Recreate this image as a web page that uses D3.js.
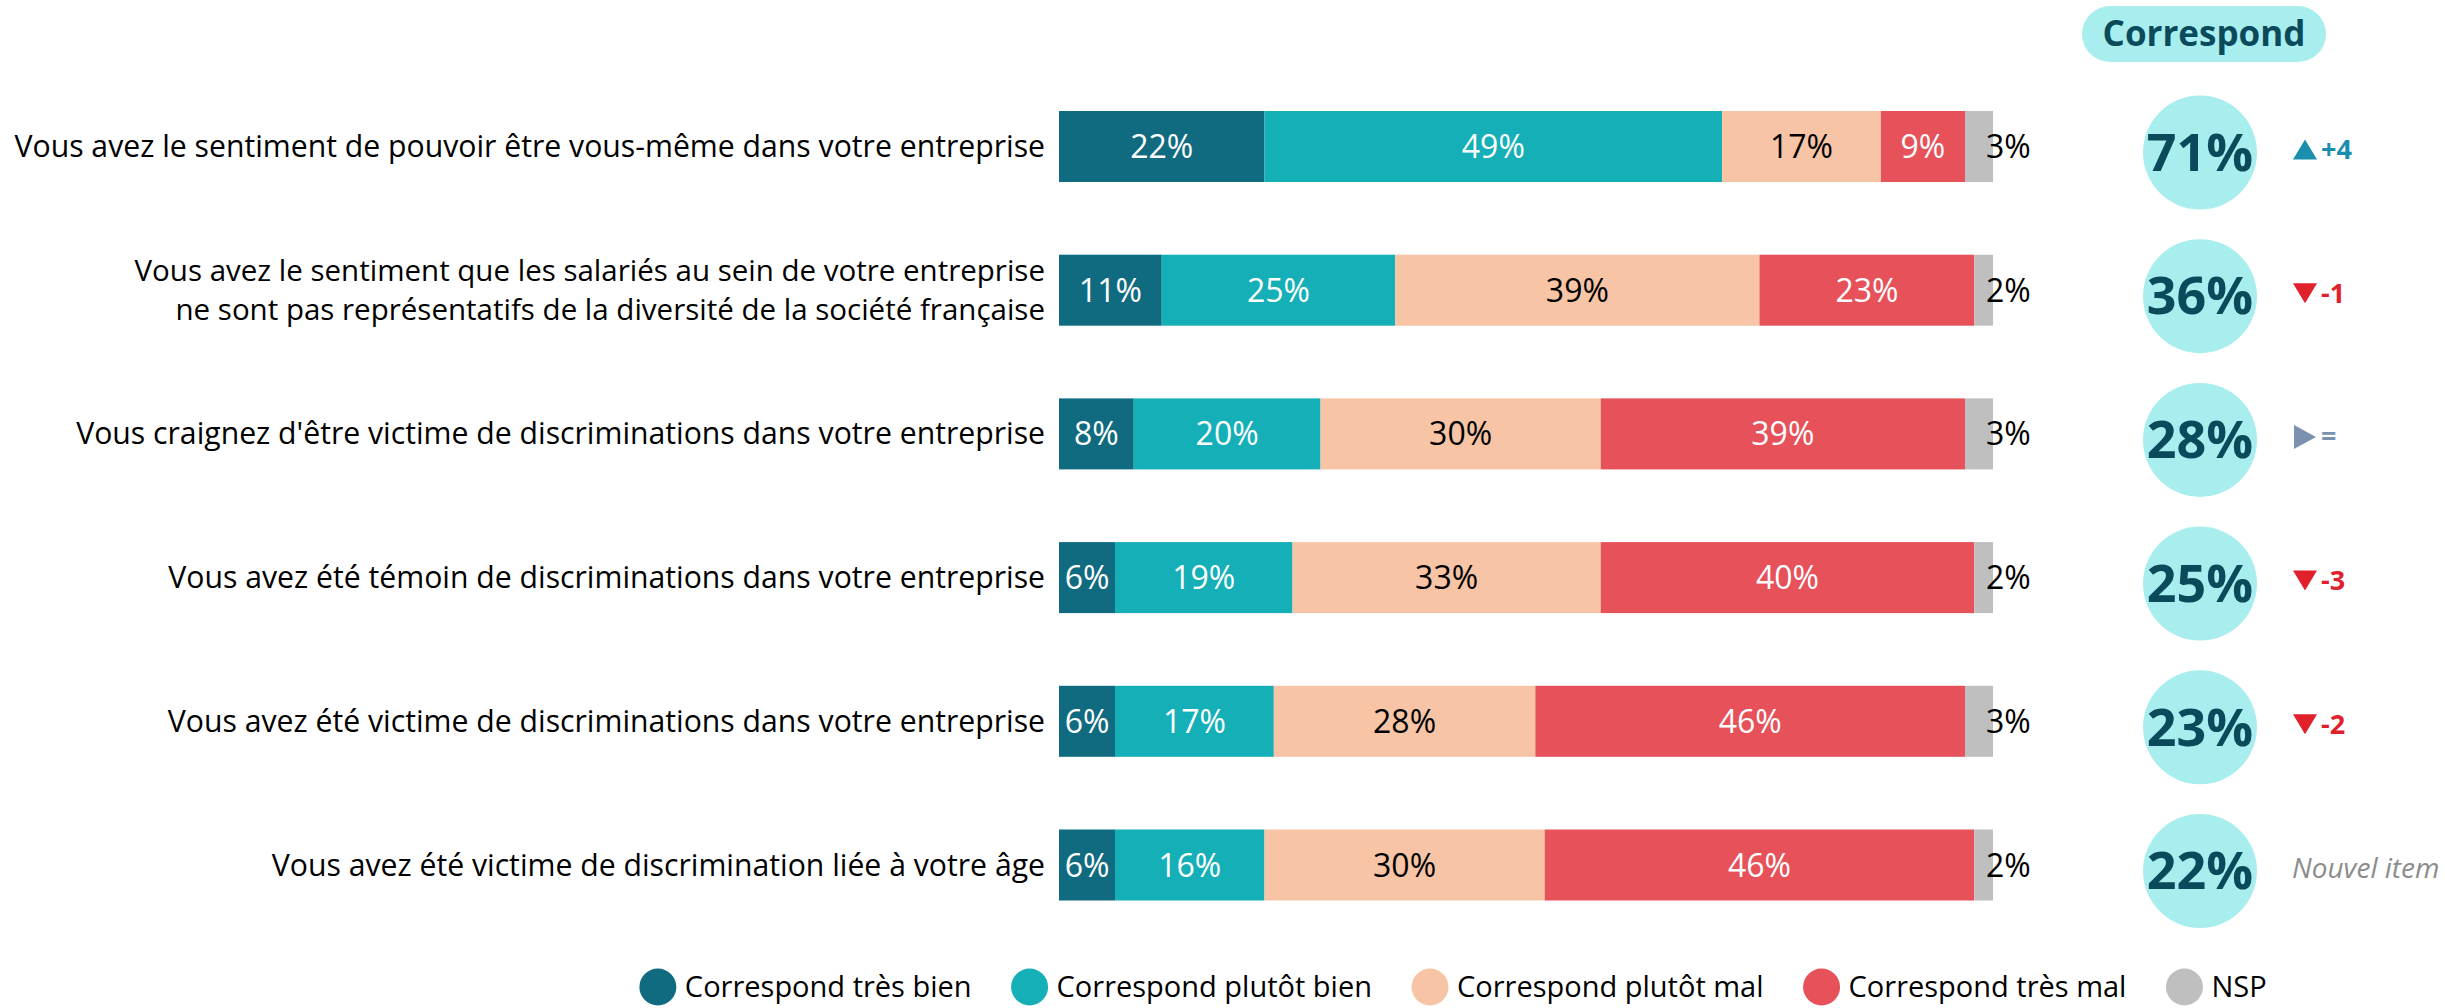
<!DOCTYPE html>
<html>
<head>
<meta charset="utf-8">
<script src="https://cdn.jsdelivr.net/npm/d3@7"></script>
<style>
  html, body { margin: 0; padding: 0; background: #fff; }
  svg text { font-family: "Open Sans", "Noto Sans", sans-serif; }
</style>
</head>
<body>
<svg id="chart" width="2445" height="1008"></svg>
<script>
// questions (une entrée = une ligne, "\n" = retour à la ligne)
var categories = [
  "Vous avez le sentiment de pouvoir être vous-même dans votre entreprise",
  "Vous avez le sentiment que les salariés au sein de votre entreprise\nne sont pas représentatifs de la diversité de la société française",
  "Vous craignez d'être victime de discriminations dans votre entreprise",
  "Vous avez été témoin de discriminations dans votre entreprise",
  "Vous avez été victime de discriminations dans votre entreprise",
  "Vous avez été victime de discrimination liée à votre âge"
];

var seriesNames = ["Correspond très bien", "Correspond plutôt bien", "Correspond plutôt mal", "Correspond très mal", "NSP"];
var tresBien   = [22, 11, 8, 6, 6, 6];
var plutotBien = [49, 25, 20, 19, 17, 16];
var plutotMal  = [17, 39, 30, 33, 28, 30];
var tresMal    = [9, 23, 39, 40, 46, 46];
var nsp        = [3, 2, 3, 2, 3, 2];

// total "Correspond" et évolution
var totalCorrespond = [71, 36, 28, 25, 23, 22];
var evolution = ["+4", "-1", "=", "-3", "-2", null];

var colors = ["#106b80", "#14afb7", "#f7c4a5", "#e6515a", "#bfbfbf"];
var labelColors = ["#fff", "#fff", "#000", "#fff", "#000"];

var svg = d3.select("#chart");

// tableau pour d3.stack
var table = categories.map(function (c, i) {
  return { cat: c, s0: tresBien[i], s1: plutotBien[i], s2: plutotMal[i], s3: tresMal[i], s4: nsp[i] };
});
var keys = ["s0", "s1", "s2", "s3", "s4"];
var stacked = d3.stack().keys(keys)(table);

var x = d3.scaleLinear().domain([0, 100]).range([1059, 1993]);
var y = d3.scalePoint().domain(categories).range([146.5, 865]);
var barH = 71;

// barres
var layers = svg.selectAll(".layer")
  .data(stacked)
  .enter().append("g")
  .attr("class", "layer")
  .attr("fill", function (d, i) { return colors[i]; });

layers.selectAll("rect")
  .data(function (d) { return d; })
  .enter().append("rect")
  .attr("x", function (d) { return x(d[0]); })
  .attr("y", function (d) { return y(d.data.cat) - barH / 2; })
  .attr("width", function (d) { return x(d[1]) - x(d[0]); })
  .attr("height", barH);

// valeurs dans les barres
layers.each(function (layer, li) {
  d3.select(this).selectAll("text")
    .data(layer)
    .enter().append("text")
    .attr("x", function (d) {
      if (li === 4) return x(d[1]) - 7; // NSP : a droite de la barre
      return (x(d[0]) + x(d[1])) / 2;
    })
    .attr("y", function (d) { return y(d.data.cat); })
    .attr("dy", "0.36em")
    .attr("text-anchor", li === 4 ? "start" : "middle")
    .attr("font-size", 32)
    .attr("fill", labelColors[li])
    .text(function (d) { return (d[1] - d[0]) + "%"; });
});

// libellés des questions (une balise text par ligne)
categories.forEach(function (d) {
  var lines = d.split("\n");
  lines.forEach(function (l, k) {
    svg.append("text")
      .attr("class", "qlabel")
      .attr("text-anchor", "end")
      .attr("font-size", lines.length > 1 ? 29.5 : 30.2)
      .attr("fill", "#000")
      .attr("x", 1045)
      .attr("y", y(d) + (k - (lines.length - 1) / 2) * 39)
      .attr("dy", "0.35em")
      .text(l);
  });
});

// pastille "Correspond"
svg.append("rect")
  .attr("x", 2082).attr("y", 6)
  .attr("width", 244).attr("height", 56)
  .attr("rx", 28)
  .attr("fill", "#a8eeee");
svg.append("text")
  .attr("x", 2204).attr("y", 34)
  .attr("dy", "0.35em")
  .attr("text-anchor", "middle")
  .attr("font-size", 35)
  .attr("font-weight", "bold")
  .attr("fill", "#0b4a5a")
  .text("Correspond");

// cercles avec total
var circ = svg.selectAll(".tot")
  .data(totalCorrespond)
  .enter().append("g")
  .attr("class", "tot")
  .attr("transform", function (d, i) { return "translate(2200," + (y(categories[i]) + 6) + ")"; });
circ.append("circle")
  .attr("r", 57)
  .attr("fill", "#a8eeee");
circ.append("text")
  .attr("text-anchor", "middle")
  .attr("dy", "0.35em")
  .attr("font-size", 52)
  .attr("font-weight", "bold")
  .attr("fill", "#0b4a5a")
  .text(function (d) { return d + "%"; });

// évolutions
var evo = svg.selectAll(".evo")
  .data(evolution)
  .enter().append("g")
  .attr("class", "evo")
  .attr("transform", function (d, i) { return "translate(2305," + (y(categories[i]) + 3) + ")"; });

evo.each(function (d) {
  var g = d3.select(this);
  if (d === null) {
    g.append("text")
      .attr("x", -13)
      .attr("dy", "0.35em")
      .attr("font-size", 28)
      .attr("font-style", "italic")
      .attr("fill", "#8c8c8c")
      .text("Nouvel item");
    return;
  }
  var col, path;
  if (d.charAt(0) === "+") {
    col = "#1a8fad"; path = "M-12,10L12,10L0,-10Z";
  } else if (d.charAt(0) === "-") {
    col = "#e0202b"; path = "M-12,-10L12,-10L0,10Z";
  } else {
    col = "#7a92b0"; path = "M-11,-12L11,0L-11,12Z";
  }
  g.append("path").attr("d", path).attr("fill", col);
  g.append("text")
    .attr("x", 16)
    .attr("dy", "0.35em")
    .attr("font-size", 27)
    .attr("font-weight", "bold")
    .attr("fill", col)
    .text(d);
});

// légende
var legend = svg.append("g").attr("class", "legend");
var lx = 0;
seriesNames.forEach(function (name, i) {
  var item = legend.append("g").attr("transform", "translate(" + lx + ",0)");
  item.append("circle").attr("cx", 0).attr("cy", 0).attr("r", 18.5).attr("fill", colors[i]);
  var t = item.append("text")
    .attr("x", 27)
    .attr("dy", "0.35em")
    .attr("font-size", 29)
    .attr("fill", "#000")
    .text(name);
  lx += 27 + t.node().getComputedTextLength() + 58;
});
var legW = lx - 58 + 18.5;
legend.attr("transform", "translate(" + (1453 - legW / 2 + 18.5) + ",987)");
</script>
</body>
</html>
